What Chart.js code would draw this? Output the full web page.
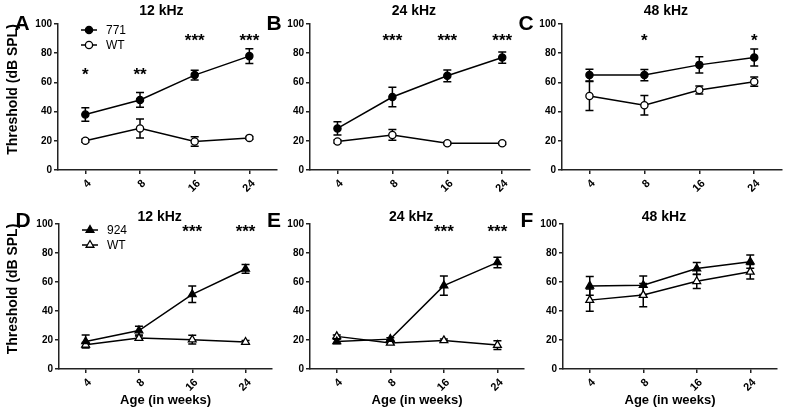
<!DOCTYPE html>
<html lang="en">
<head>
<meta charset="UTF-8">
<title>ABR thresholds by age</title>
<script src="https://cdn.jsdelivr.net/npm/chart.js"></script>
<style>
    body {
        margin: 0;
        width: 787px;
        height: 412px;
        position: relative;
        overflow: hidden;
        background: #fff;
    }
    canvas {
        position: absolute;
    }
</style>
</head>
<body>
<canvas id="cA" width="282" height="200" style="left:0;top:0"></canvas>
<canvas id="cB" width="275" height="200" style="left:260px;top:0"></canvas>
<canvas id="cC" width="275" height="200" style="left:512px;top:0"></canvas>
<canvas id="cD" width="278" height="212" style="left:0;top:200px"></canvas>
<canvas id="cE" width="270" height="212" style="left:260px;top:200px"></canvas>
<canvas id="cF" width="275" height="212" style="left:512px;top:200px"></canvas>
<script>
// x tick labels (age in weeks) and y tick values
const ages = ['4', '8', '16', '24'];
const thresholdTicks = [0, 20, 40, 60, 80, 100];

// line 771 vs WT, mean and error (dB SPL)
const m771_12 = [38, 48, 65, 78];
const m771_12_err = [4.6, 5, 3.3, 5];
const wt771_12 = [20, 28.5, 19.5, 22];
const wt771_12_err = [1, 6.5, 3.3, 1];

const m771_24 = [28.5, 50, 64.5, 77];
const m771_24_err = [4.6, 6.6, 4, 3.8];
const wt771_24 = [19.5, 24, 18.3, 18.3];
const wt771_24_err = [1, 3.7, 0.8, 0.8];

const m771_48 = [65, 65, 72, 77];
const m771_48_err = [4, 3.8, 5.5, 5.8];
const wt771_48 = [50.7, 44.3, 54.8, 60.5];
const wt771_48_err = [10, 6.7, 2.7, 3.2];

// line 924 vs WT
const m924_12 = [19, 26.5, 51.5, 69];
const m924_12_err = [4.5, 3, 5.7, 3];
const wt924_12 = [16.7, 21.3, 20.2, 18.6];
const wt924_12_err = [1.5, 1.5, 3, 1];

const m924_24 = [19, 20.6, 57.5, 73.5];
const m924_24_err = [1.5, 1, 6.6, 3.6];
const wt924_24 = [22.5, 18, 19.7, 16.5];
const wt924_24_err = [1, 1, 1, 3];

const m924_48 = [57.3, 57.8, 69.3, 74];
const m924_48_err = [6.5, 6.4, 4.1, 4.6];
const wt924_48 = [47.5, 51, 60.5, 67];
const wt924_48_err = [7.6, 8, 4.9, 5];

// significance marks and the level they sit at
const stars771_12 = ['*', '**', '***', '***'];
const starLvl771_12 = [68, 68, 91, 91];
const stars771_24 = ['', '***', '***', '***'];
const starLvl771_24 = [91, 91, 91, 91];
const stars771_48 = ['', '*', '', '*'];
const starLvl771_48 = [91, 91, 91, 91];
const stars924_12 = ['', '', '***', '***'];
const starLvl924_12 = [97, 97, 97, 97];
const stars924_24 = ['', '', '***', '***'];
const starLvl924_24 = [97, 97, 97, 97];
const stars924_48 = ['', '', '', ''];
const starLvl924_48 = [97, 97, 97, 97];

const FONT = "'Liberation Sans', Arial, Helvetica, sans-serif";
Chart.defaults.font.family = FONT;
Chart.defaults.color = '#000';

function series(label, values, errors, filled, style) {
    return {
        label: label,
        data: values,
        errors: errors,
        borderColor: '#000',
        borderWidth: 1.5,
        backgroundColor: filled ? '#000' : '#fff',
        pointStyle: style,
        pointRadius: style === 'triangle' ? 4.5 : 3.6,
        pointBorderWidth: 1.3,
        pointBackgroundColor: filled ? '#000' : '#fff',
        pointBorderColor: '#000',
        tension: 0,
        fill: false
    };
}

function drawMarker(ctx, style, filled, x, y) {
    ctx.beginPath();
    if (style === 'triangle') {
        const r = 4.5;
        for (let k = 0; k < 3; k++) {
            const a = k * 2 * Math.PI / 3;
            const px = x + Math.sin(a) * r, py = y - Math.cos(a) * r;
            k ? ctx.lineTo(px, py) : ctx.moveTo(px, py);
        }
        ctx.closePath();
    } else {
        ctx.arc(x, y, 3.6, 0, Math.PI * 2);
    }
    ctx.fillStyle = filled ? '#000' : '#fff';
    ctx.fill();
    ctx.lineWidth = 1.3;
    ctx.strokeStyle = '#000';
    ctx.stroke();
}

// error bars, panel letter, title, stars, legend, y title
function decor(p) {
    return {
        id: 'decor',
        beforeDatasetsDraw(chart) {
            const ctx = chart.ctx, ys = chart.scales.y;
            ctx.save();
            ctx.strokeStyle = '#000';
            ctx.lineWidth = 1.5;
            chart.data.datasets.forEach((ds, i) => {
                chart.getDatasetMeta(i).data.forEach((pt, j) => {
                    const e = ds.errors[j];
                    const v = ds.data[j];
                    const top = ys.getPixelForValue(v + e), bot = ys.getPixelForValue(v - e);
                    ctx.beginPath();
                    ctx.moveTo(pt.x, top); ctx.lineTo(pt.x, bot);
                    ctx.moveTo(pt.x - 4, top); ctx.lineTo(pt.x + 4, top);
                    ctx.moveTo(pt.x - 4, bot); ctx.lineTo(pt.x + 4, bot);
                    ctx.stroke();
                });
            });
            ctx.restore();
        },
        afterDraw(chart) {
            const ctx = chart.ctx, a = chart.chartArea, xs = chart.scales.x, ys = chart.scales.y;
            ctx.save();
            ctx.fillStyle = '#000';
            ctx.textAlign = 'center';
            ctx.textBaseline = 'alphabetic';

            ctx.font = 'bold 21px ' + FONT;
            ctx.fillText(p.letter, a.left - 36, p.letterY);

            ctx.font = 'bold 14px ' + FONT;
            ctx.fillText(p.title, (a.left + a.right) / 2 - 6, p.titleY);

            ctx.font = 'bold 17px ' + FONT;
            p.stars.forEach((s, j) => {
                if (s) ctx.fillText(s, xs.getPixelForValue(j), ys.getPixelForValue(p.starLevels[j]) + 9);
            });

            if (p.yTitle) {
                ctx.save();
                ctx.translate(13.5, (a.top + a.bottom) / 2 - 7.5);
                ctx.rotate(-Math.PI / 2);
                ctx.textBaseline = 'middle';
                ctx.font = 'bold 14px ' + FONT;
                ctx.fillText(p.yTitle, 0, 0);
                ctx.restore();
            }

            if (p.legend) {
                ctx.font = '12px ' + FONT;
                ctx.textAlign = 'left';
                ctx.textBaseline = 'middle';
                chart.data.datasets.forEach((ds, i) => {
                    const y = a.top + 6 + i * 15;
                    const x0 = a.left + 23;
                    ctx.beginPath();
                    ctx.moveTo(x0, y); ctx.lineTo(x0 + 16, y);
                    ctx.strokeStyle = '#000';
                    ctx.lineWidth = 1.5;
                    ctx.stroke();
                    drawMarker(ctx, ds.pointStyle, ds.pointBackgroundColor === '#000', x0 + 8, y);
                    ctx.fillStyle = '#000';
                    ctx.fillText(ds.label, x0 + 25, y + 1);
                });
            }
            ctx.restore();
        }
    };
}

function makePanel(id, p) {
    new Chart(document.getElementById(id), {
        type: 'line',
        data: { labels: ages, datasets: p.datasets },
        options: {
            responsive: false,
            animation: false,
            events: [],
            layout: { padding: { left: 0, right: p.padRight, top: 24, bottom: 0 } },
            plugins: {
                legend: { display: false },
                tooltip: { enabled: false },
                title: { display: false }
            },
            scales: {
                x: {
                    offset: true,
                    grid: { offset: false, drawOnChartArea: false, drawTicks: true, tickLength: 4, color: '#222', lineWidth: 1.5 },
                    border: { color: '#222', width: 1.5 },
                    ticks: { minRotation: 45, maxRotation: 45, padding: 3, labelOffset: 4, color: '#000', font: { size: 11, weight: 'bold' } },
                    title: { display: !!p.xTitle, text: p.xTitle || '', color: '#000', font: { size: 13, weight: 'bold' }, padding: { top: 0, bottom: 4 } },
                    afterFit: s => { s.height = p.xHeight; }
                },
                y: {
                    min: 0,
                    max: 100,
                    afterBuildTicks: s => { s.ticks = thresholdTicks.map(v => ({ value: v })); },
                    grid: { drawOnChartArea: false, drawTicks: true, tickLength: 4, color: '#222', lineWidth: 1.5 },
                    border: { color: '#222', width: 1.5 },
                    ticks: { padding: 2, color: '#000', font: { size: 10, weight: 'bold' } },
                    afterFit: s => { s.width = p.yWidth; }
                }
            }
        },
        plugins: [decor(p)]
    });
}

makePanel('cA', {
    letter: 'A', title: '12 kHz', letterY: 30, titleY: 15, yWidth: 58, xHeight: 30, padRight: 4,
    yTitle: 'Threshold (dB SPL)', legend: true,
    stars: stars771_12, starLevels: starLvl771_12,
    datasets: [series('771', m771_12, m771_12_err, true, 'circle'), series('WT', wt771_12, wt771_12_err, false, 'circle')]
});
makePanel('cB', {
    letter: 'B', title: '24 kHz', letterY: 30, titleY: 15, yWidth: 50, xHeight: 30, padRight: 4,
    stars: stars771_24, starLevels: starLvl771_24,
    datasets: [series('771', m771_24, m771_24_err, true, 'circle'), series('WT', wt771_24, wt771_24_err, false, 'circle')]
});
makePanel('cC', {
    letter: 'C', title: '48 kHz', letterY: 30, titleY: 15, yWidth: 50, xHeight: 30, padRight: 4,
    stars: stars771_48, starLevels: starLvl771_48,
    datasets: [series('771', m771_48, m771_48_err, true, 'circle'), series('WT', wt771_48, wt771_48_err, false, 'circle')]
});
makePanel('cD', {
    letter: 'D', title: '12 kHz', letterY: 27, titleY: 21, yWidth: 59, xHeight: 43, padRight: 4,
    yTitle: 'Threshold (dB SPL)', xTitle: 'Age (in weeks)', legend: true,
    stars: stars924_12, starLevels: starLvl924_12,
    datasets: [series('924', m924_12, m924_12_err, true, 'triangle'), series('WT', wt924_12, wt924_12_err, false, 'triangle')]
});
makePanel('cE', {
    letter: 'E', title: '24 kHz', letterY: 27, titleY: 21, yWidth: 50, xHeight: 43, padRight: 4,
    xTitle: 'Age (in weeks)',
    stars: stars924_24, starLevels: starLvl924_24,
    datasets: [series('924', m924_24, m924_24_err, true, 'triangle'), series('WT', wt924_24, wt924_24_err, false, 'triangle')]
});
makePanel('cF', {
    letter: 'F', title: '48 kHz', letterY: 27, titleY: 21, yWidth: 51, xHeight: 43, padRight: 10,
    xTitle: 'Age (in weeks)',
    stars: stars924_48, starLevels: starLvl924_48,
    datasets: [series('924', m924_48, m924_48_err, true, 'triangle'), series('WT', wt924_48, wt924_48_err, false, 'triangle')]
});
</script>
</body>
</html>
